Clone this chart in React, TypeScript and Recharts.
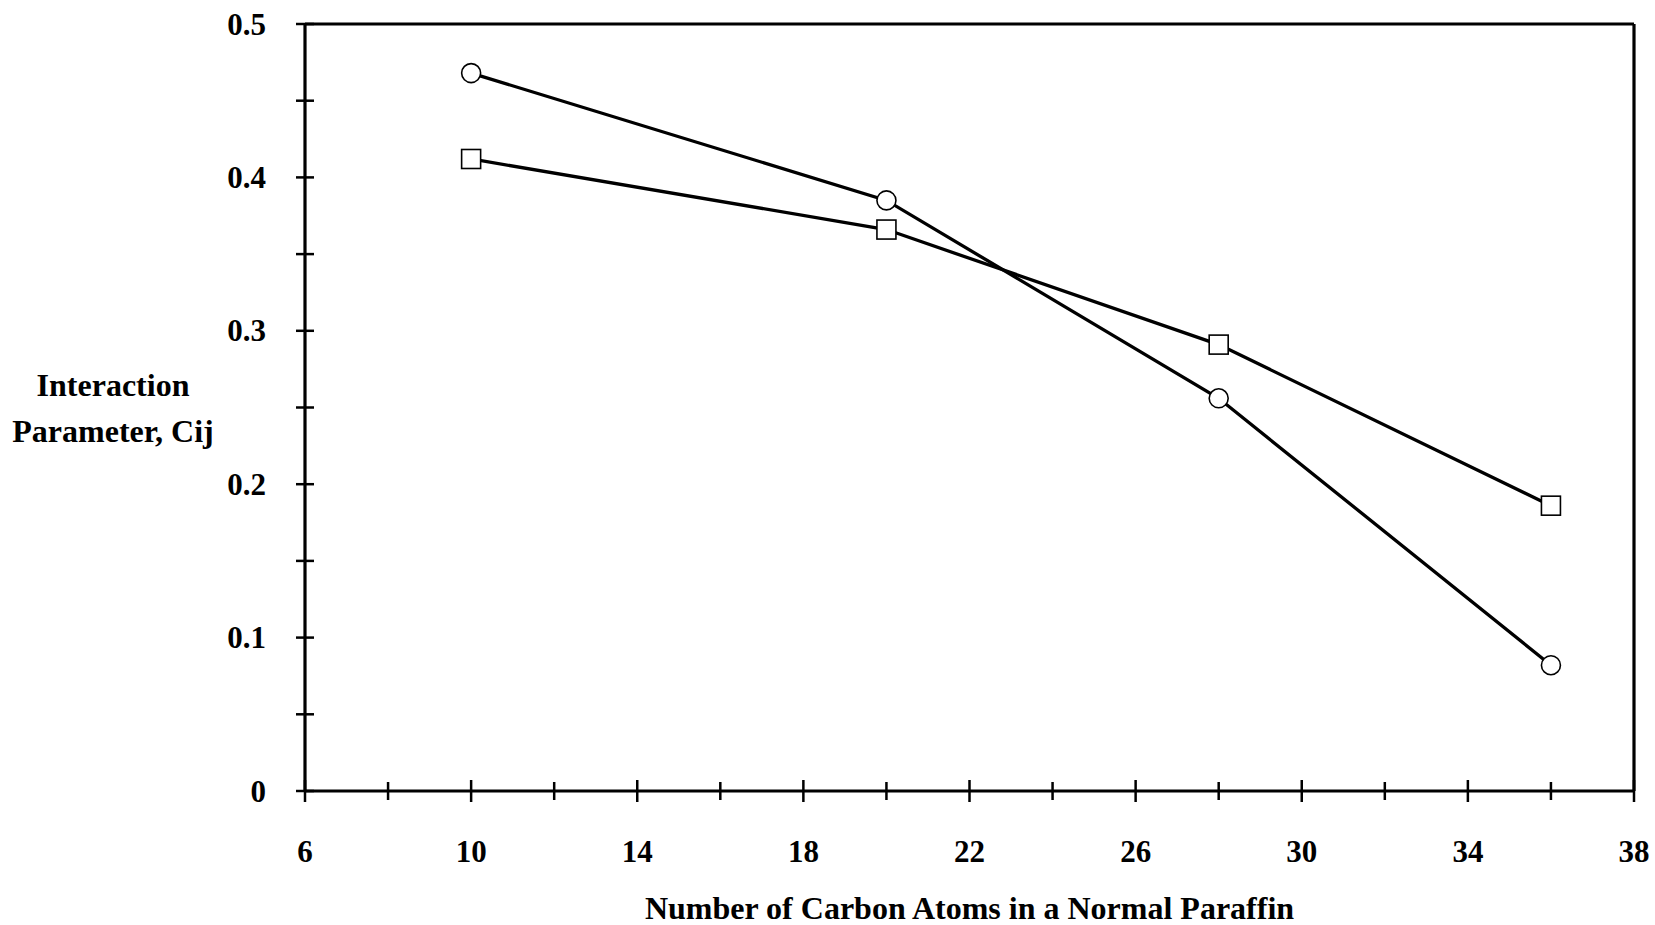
import { LineChart, Line, XAxis, YAxis, ReferenceLine } from "recharts";

// Carbon number of the normal paraffin
const carbonNumbers = [10, 20, 28, 36];
// Interaction parameter Cij, circle series and square series
const circleSeries = [0.468, 0.385, 0.256, 0.082];
const squareSeries = [0.412, 0.366, 0.291, 0.186];

const xTicks = [6, 8, 10, 12, 14, 16, 18, 20, 22, 24, 26, 28, 30, 32, 34, 36, 38];
const xLabels = [6, 10, 14, 18, 22, 26, 30, 34, 38];
const yTicks = [0, 0.05, 0.1, 0.15, 0.2, 0.25, 0.3, 0.35, 0.4, 0.45, 0.5];
const yLabels = [0, 0.1, 0.2, 0.3, 0.4, 0.5];

const FONT = '"Liberation Serif", "Times New Roman", serif';

const chartData = carbonNumbers.map((n, i) => ({
  n,
  circle: circleSeries[i],
  square: squareSeries[i],
}));

// Crossing tick marks on the bottom axis, numbers on every other one
const XTick = ({ x, y, payload }: any) => {
  const major = xLabels.includes(payload.value);
  const len = major ? 11 : 9;
  return (
    <g>
      <line x1={x} x2={x} y1={y - len} y2={y + len} stroke="#000" strokeWidth={2.5} />
      {major && (
        <text
          x={x}
          y={y + 60}
          textAnchor="middle"
          dominantBaseline="central"
          fontFamily={FONT}
          fontWeight="bold"
          fontSize={31}
          fill="#000"
        >
          {payload.value}
        </text>
      )}
    </g>
  );
};

const YTick = ({ x, y, payload }: any) => {
  const major = yLabels.some((v) => Math.abs(v - payload.value) < 1e-9);
  return (
    <g>
      <line x1={x - 9} x2={x + 9} y1={y} y2={y} stroke="#000" strokeWidth={2.5} />
      {major && (
        <text
          x={x - 39}
          y={y}
          textAnchor="end"
          dominantBaseline="central"
          fontFamily={FONT}
          fontWeight="bold"
          fontSize={31}
          fill="#000"
        >
          {payload.value}
        </text>
      )}
    </g>
  );
};

const CircleDot = (p: any) => (
  <circle key={`c-${p.index}`} cx={p.cx} cy={p.cy} r={9.5} fill="#fff" stroke="#000" strokeWidth={1.6} />
);

const SquareDot = (p: any) => (
  <rect
    key={`s-${p.index}`}
    x={p.cx - 9.5}
    y={p.cy - 9.5}
    width={19}
    height={19}
    fill="#fff"
    stroke="#000"
    strokeWidth={1.6}
  />
);

const axisLine = { stroke: "#000", strokeWidth: 3.2 };

export default function App() {
  return (
    <div style={{ position: "absolute", left: 0, top: 0, width: 1655, height: 925, background: "#fff" }}>
      <LineChart
        width={1655}
        height={925}
        data={chartData}
        margin={{ top: 24, right: 21, bottom: 0, left: 0 }}
      >
        <XAxis
          dataKey="n"
          type="number"
          domain={[6, 38]}
          ticks={xTicks}
          interval={0}
          height={134}
          tickSize={0}
          tickMargin={0}
          tickLine={false}
          axisLine={axisLine}
          tick={<XTick />}
        />
        <YAxis
          type="number"
          domain={[0, 0.5]}
          ticks={yTicks}
          interval={0}
          width={305}
          tickSize={0}
          tickMargin={0}
          tickLine={false}
          axisLine={axisLine}
          tick={<YTick />}
        />
        {/* top and right edges of the frame */}
        <ReferenceLine y={0.5} stroke="#000" strokeWidth={3.2} />
        <ReferenceLine x={38} stroke="#000" strokeWidth={3.2} />
        <Line
          dataKey="circle"
          type="linear"
          stroke="#000"
          strokeWidth={3.3}
          dot={CircleDot}
          activeDot={false}
          isAnimationActive={false}
        />
        <Line
          dataKey="square"
          type="linear"
          stroke="#000"
          strokeWidth={3.3}
          dot={SquareDot}
          activeDot={false}
          isAnimationActive={false}
        />
      </LineChart>
      <div
        style={{
          position: "absolute",
          left: 0,
          top: 362,
          width: 226,
          textAlign: "center",
          fontFamily: FONT,
          fontWeight: "bold",
          fontSize: 32,
          lineHeight: "46px",
          color: "#000",
        }}
      >
        Interaction
        <br />
        Parameter, Cij
      </div>
      <div
        style={{
          position: "absolute",
          left: 305,
          top: 888,
          width: 1329,
          textAlign: "center",
          fontFamily: FONT,
          fontWeight: "bold",
          fontSize: 32,
          lineHeight: "40px",
          color: "#000",
        }}
      >
        Number of Carbon Atoms in a Normal Paraffin
      </div>
    </div>
  );
}
